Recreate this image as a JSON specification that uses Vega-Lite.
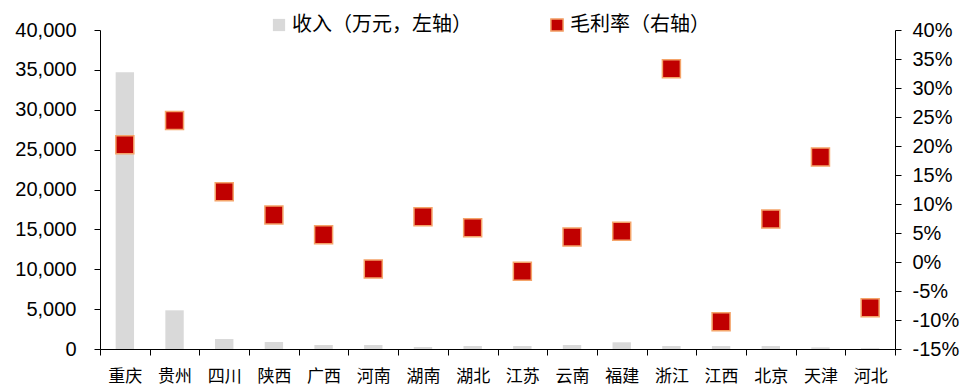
{
  "$schema": "https://vega.github.io/schema/vega-lite/v6.json",
  "width": 795,
  "height": 319,
  "autosize": {"type": "none"},
  "padding": {"left": 100, "top": 30, "right": 70, "bottom": 36},
  "background": "white",
  "config": {
    "view": {"stroke": null},
    "font": "Liberation Sans",
    "axis": {"domainColor": "#000000", "tickColor": "#000000", "labelColor": "#000000", "grid": false, "domainWidth": 1, "tickWidth": 1, "tickSize": 6}
  },
  "data": {
    "values": [
      {"region": "重庆", "revenue": 34700, "margin": 20.2},
      {"region": "贵州", "revenue": 4850, "margin": 24.4},
      {"region": "四川", "revenue": 1250, "margin": 12.1},
      {"region": "陕西", "revenue": 880, "margin": 8.1},
      {"region": "广西", "revenue": 500, "margin": 4.7},
      {"region": "河南", "revenue": 500, "margin": -1.2},
      {"region": "湖南", "revenue": 250, "margin": 7.8},
      {"region": "湖北", "revenue": 380, "margin": 5.9},
      {"region": "江苏", "revenue": 380, "margin": -1.6},
      {"region": "云南", "revenue": 500, "margin": 4.3},
      {"region": "福建", "revenue": 840, "margin": 5.3},
      {"region": "浙江", "revenue": 380, "margin": 33.3},
      {"region": "江西", "revenue": 380, "margin": -10.3},
      {"region": "北京", "revenue": 380, "margin": 7.4},
      {"region": "天津", "revenue": 200, "margin": 18.1},
      {"region": "河北", "revenue": 100, "margin": -7.9}
    ]
  },
  "encoding": {
    "x": {
      "field": "region", "type": "nominal", "sort": null,
      "scale": {"paddingInner": 0, "paddingOuter": 0},
      "axis": {"title": null, "labelAngle": 0, "labelFont": "Noto Sans CJK SC", "labelFontSize": 17, "labelPadding": 13, "tickBand": "extent", "tickSize": 6}
    }
  },
  "layer": [
    {
      "mark": {"type": "bar", "width": {"band": 0.37}},
      "encoding": {
        "y": {
          "field": "revenue", "type": "quantitative",
          "scale": {"domain": [0, 40000], "nice": false},
          "axis": {"title": null, "values": [0, 5000, 10000, 15000, 20000, 25000, 30000, 35000, 40000], "format": ",.0f", "labelFontSize": 20, "labelPadding": 18}
        },
        "color": {
          "datum": "收入（万元，左轴）",
          "scale": {"range": ["#D9D9D9"]},
          "legend": {"title": null, "orient": "none", "legendX": 169, "legendY": -15, "symbolType": "square", "symbolSize": 150, "labelFont": "Noto Sans CJK SC", "labelFontSize": 20, "labelColor": "#000000", "labelLimit": 400, "padding": 0, "symbolOpacity": 1, "labelOffset": 3}
        }
      }
    },
    {
      "mark": {"type": "point", "shape": "square", "filled": true, "size": 324, "stroke": "#F4A46A", "strokeWidth": 1.5, "opacity": 1},
      "encoding": {
        "y": {
          "field": "margin", "type": "quantitative",
          "scale": {"domain": [-15, 40], "nice": false},
          "axis": {"orient": "right", "title": null, "values": [-15, -10, -5, 0, 5, 10, 15, 20, 25, 30, 35, 40], "labelExpr": "datum.value + '%'", "labelFontSize": 20, "labelPadding": 11}
        },
        "fill": {
          "datum": "毛利率（右轴）",
          "scale": {"range": ["#C00000"]},
          "legend": {"title": null, "orient": "none", "legendX": 447, "legendY": -15, "symbolType": "square", "symbolSize": 150, "symbolStrokeColor": "#F4A46A", "symbolStrokeWidth": 1.5, "labelFont": "Noto Sans CJK SC", "labelFontSize": 20, "labelColor": "#000000", "labelLimit": 400, "padding": 0, "symbolOpacity": 1, "labelOffset": 3}
        }
      }
    }
  ],
  "resolve": {"scale": {"y": "independent"}}
}
